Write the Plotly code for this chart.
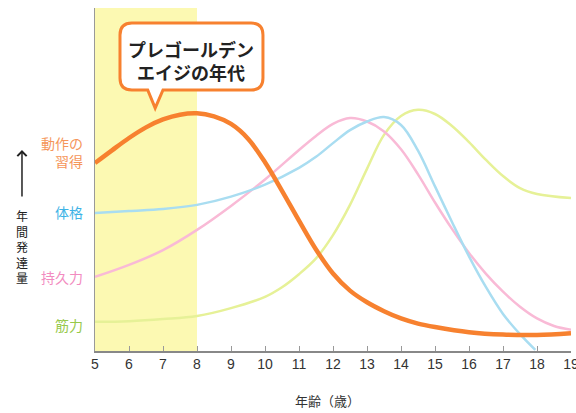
import plotly.graph_objects as go

# ---------------- data ----------------
ages_orange = [5, 5.5, 6, 6.5, 7, 7.5, 8, 8.5, 9, 9.5, 10, 10.5, 11, 11.5, 12, 12.5, 13, 13.5, 14, 14.5, 15, 16, 17, 18, 19]
motor = [54.8, 58.5, 62.1, 65.2, 67.5, 68.9, 69.3, 68.4, 66.2, 61.9, 55.0, 46.7, 38.0, 29.6, 22.6, 17.6, 14.2, 11.6, 9.5, 8.0, 7.0, 5.5, 4.8, 4.7, 5.2]

ages_blue = [5, 6, 7, 8, 9, 10, 11, 11.5, 12, 12.5, 13, 13.5, 14, 14.5, 15, 15.5, 16, 16.5, 17, 17.5, 17.95]
physique = [40.2, 40.8, 41.4, 42.6, 45.0, 48.5, 53.4, 56.6, 60.6, 64.4, 66.9, 68.2, 65.9, 58.4, 48.0, 37.6, 27.6, 18.6, 10.8, 4.9, 0.3]

ages_pink = [5, 6, 7, 8, 9, 10, 11, 11.5, 12, 12.5, 13, 13.5, 14, 14.5, 15, 15.5, 16, 16.5, 17, 17.5, 18, 18.5, 19]
endurance = [21.6, 25.1, 29.4, 35.3, 42.3, 50.0, 58.6, 62.7, 66.2, 67.9, 66.9, 64.0, 58.8, 51.5, 43.3, 35.6, 28.6, 22.5, 17.3, 12.9, 9.5, 7.3, 6.2]

ages_green = [5, 6, 7, 8, 9, 10, 10.5, 11, 11.5, 12, 12.5, 13, 13.5, 14, 14.5, 15, 15.5, 16, 16.5, 17, 17.5, 18, 19]
strength = [8.5, 8.7, 9.3, 10.2, 12.5, 15.8, 18.6, 22.4, 27.0, 33.8, 42.6, 53.1, 63.0, 68.5, 70.3, 69.1, 65.6, 60.9, 55.7, 51.0, 47.5, 45.8, 44.6]

tick_vals = list(range(5, 20))
tick_text = [str(v) for v in tick_vals]

golden_start, golden_end = 5, 8

series_labels = ["動作の<br>習得", "体格", "持久力", "筋力"]
label_y = [58, 40.5, 21.5, 7.5]

C_ORANGE = "#F7812F"
C_BLUE = "#A9DDF1"
C_PINK = "#F9BAD6"
C_GREEN = "#E6F197"
LBL_COLORS = ["#F5965A", "#3DB3E6", "#F28BC0", "#97C94B"]

fig = go.Figure()

fig.add_shape(type="rect", xref="x", yref="y", x0=golden_start, x1=golden_end, y0=0, y1=100,
              fillcolor="#FCF9B2", line=dict(width=0), layer="below")

for xs, ys, c, w in [(ages_green, strength, C_GREEN, 2.5),
                     (ages_pink, endurance, C_PINK, 2.5),
                     (ages_blue, physique, C_BLUE, 2.5),
                     (ages_orange, motor, C_ORANGE, 4.5)]:
    fig.add_trace(go.Scatter(x=xs, y=ys, mode="lines", line=dict(color=c, width=w, shape="spline", smoothing=1.0),
                             hoverinfo="skip", showlegend=False, cliponaxis=False))

# speech bubble
x0, x1, top, bot = 5.735, 9.94, 95.6, 76.1
rx, ry = 0.35, 3.5
pb1, pb2, tipx, tipy = 6.55, 7.0, 6.77, 70.8
path = (f"M {x0+rx},{top} L {x1-rx},{top} Q {x1},{top} {x1},{top-ry} L {x1},{bot+ry} "
        f"Q {x1},{bot} {x1-rx},{bot} L {pb2},{bot} L {tipx},{tipy} L {pb1},{bot} "
        f"L {x0+rx},{bot} Q {x0},{bot} {x0},{bot+ry} L {x0},{top-ry} Q {x0},{top} {x0+rx},{top} Z")
fig.add_shape(type="path", path=path, xref="x", yref="y", fillcolor="white",
              line=dict(color=C_ORANGE, width=3))
fig.add_annotation(x=(x0 + x1) / 2, y=84.8, xref="x", yref="y", showarrow=False,
                   xanchor="center", yanchor="middle",
                   text="<b>プレゴールデン<br>エイジの年代</b>",
                   font=dict(family="Noto Sans CJK JP", size=18, color="#222222"))

# left series labels
for t, yv, c in zip(series_labels, label_y, LBL_COLORS):
    fig.add_annotation(x=0, xref="paper", y=yv, yref="y", xanchor="right", yanchor="middle", xshift=-10,
                       showarrow=False, text=t, align="right",
                       font=dict(family="Noto Sans CJK JP", size=14, color=c))

# y-axis title (vertical) with arrow
fig.add_annotation(x=-0.1534, xref="paper", y=(351 - 246) / 343, yref="paper", showarrow=False,
                   xanchor="center", yanchor="middle",
                   text="<br>".join("年間発達量"),
                   font=dict(family="Noto Sans CJK JP", size=12, color="#222222"))
fig.add_annotation(x=-0.1534, xref="paper", y=(351 - 150) / 343, yref="paper", text="",
                   showarrow=True, ax=0, ay=48, arrowhead=4, arrowsize=1.2, arrowwidth=1.5, arrowcolor="#222222")

# x-axis title
fig.add_annotation(x=(327 - 95) / 476, xref="paper", y=-(400 - 351) / 343, yref="paper", showarrow=False,
                   xanchor="center", yanchor="middle",
                   text="年齢（歳）", font=dict(family="Noto Sans CJK JP", size=13, color="#333333"))

fig.update_xaxes(range=[5, 19], tickvals=tick_vals, ticktext=tick_text, ticks="inside", ticklen=5,
                 tickcolor="#999999", showline=True, linecolor="#888888", linewidth=1.5, showgrid=False,
                 zeroline=False, automargin=False, ticklabeloverflow="allow",
                 tickfont=dict(family="Liberation Sans", size=14, color="#333333"))
fig.update_yaxes(range=[0, 100], showticklabels=False, ticks="", showline=True, linecolor="#999999",
                 linewidth=1.5, showgrid=False, zeroline=False, automargin=False)

fig.update_layout(width=576, height=413, margin=dict(l=95, r=5, t=8, b=62, autoexpand=False),
                  plot_bgcolor="white", paper_bgcolor="white", showlegend=False)

fig.write_html("out.html", config={"displayModeBar": False, "staticPlot": True},
               post_script="document.body.style.margin='0px';document.body.style.overflow='hidden';")
